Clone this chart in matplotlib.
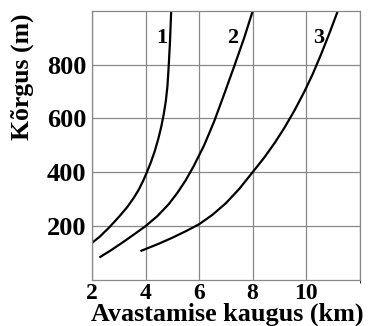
import matplotlib
matplotlib.use("Agg")
import matplotlib.pyplot as plt

# kaugus (km) ja kõrgus (m) kolmele kõverale, loetud pildilt
x1 = [2.0, 2.3, 2.65, 3.0, 3.31, 3.56, 3.75, 3.91, 4.05, 4.2, 4.35, 4.48,
      4.59, 4.68, 4.76, 4.82, 4.87, 4.915, 4.96]
y1 = [138, 162, 196, 234, 270, 305, 336, 368, 400, 437, 480, 525,
      570, 615, 665, 720, 800, 885, 1000]

x2 = [2.31, 2.7, 3.12, 3.55, 4.0, 4.45, 4.87, 5.2, 5.5, 5.8, 6.19, 6.57,
      6.94, 7.32, 7.69, 8.01]
y2 = [86, 110, 138, 168, 200, 238, 282, 325, 370, 423, 500, 590,
      690, 795, 900, 1000]

x3 = [3.85, 4.5, 5.0, 5.5, 6.0, 6.5, 7.0, 7.5, 8.0, 8.44, 8.82, 9.19,
      9.57, 9.94, 10.25, 10.57, 10.88, 11.19]
y3 = [109, 135, 157, 181, 207, 242, 285, 338, 400, 455, 508, 565,
      630, 700, 765, 840, 918, 1000]

labels = ["1", "2", "3"]
label_x = [4.61, 7.27, 10.49]
label_y = [898, 898, 898]

xticks = [2, 4, 6, 8, 10]
yticks = [200, 400, 600, 800]

plt.rcParams['font.family'] = ['Liberation Serif', 'DejaVu Serif']
plt.rcParams['font.weight'] = 'bold'

fig = plt.figure(figsize=(3.68, 3.26), dpi=100)
ax = fig.add_axes([0.25, 0.141, 0.727, 0.826])

for xs, ys in [(x1, y1), (x2, y2), (x3, y3)]:
    ax.plot(xs, ys, color='black', lw=1.6, solid_joinstyle='round')

for t, lx, ly in zip(labels, label_x, label_y):
    ax.text(lx, ly, t, fontsize=16, fontweight='bold', ha='center', va='center')

ax.set_xlim(2, 12)
ax.set_ylim(0, 1000)
ax.set_xticks(xticks)
ax.set_yticks(yticks)
ax.set_xticks([12], minor=True)
ax.grid(True, color='#888888', lw=0.9)
ax.grid(True, which='minor', color='#888888', lw=0.9)
ax.tick_params(length=0)
ax.tick_params(axis='x', labelsize=17, pad=2)
ax.tick_params(axis='y', labelsize=19, pad=4)
for s in ax.spines.values():
    s.set_color('#888888')
    s.set_linewidth(0.9)

fig.text(91 / 368, 1 - 321 / 326, "Avastamise kaugus (km)", fontsize=18.8,
         fontweight='bold', ha='left', va='baseline')
fig.text(11 / 368, 1 - 140 / 326, "Kõrgus (m)", fontsize=18.5, fontweight='bold',
         rotation=90, ha='left', va='bottom')

fig.savefig("out.png", dpi=100)
